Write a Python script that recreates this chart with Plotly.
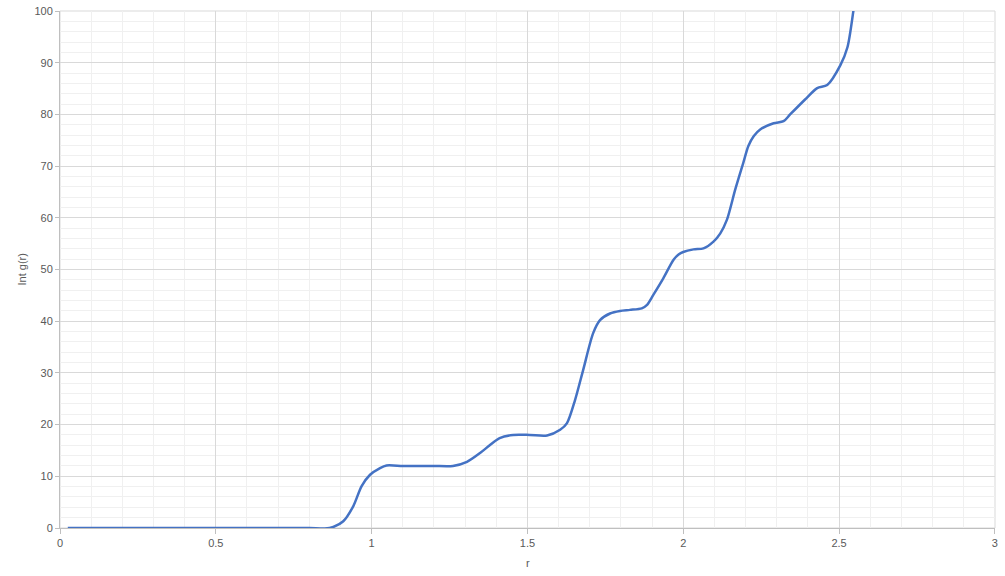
import plotly.graph_objects as go

r_vals = [0.025, 0.1, 0.2, 0.3, 0.4, 0.5, 0.6, 0.7, 0.8, 0.85, 0.877, 0.909, 0.941, 0.968,
          0.995, 1.027, 1.048, 1.1, 1.15, 1.2, 1.261, 1.306, 1.348, 1.379, 1.411, 1.454, 1.508,
          1.563, 1.605, 1.627, 1.653, 1.679, 1.711, 1.733, 1.765, 1.797, 1.829, 1.867, 1.883,
          1.904, 1.936, 1.969, 1.985, 2.0, 2.033, 2.065, 2.097, 2.119, 2.14, 2.167, 2.193,
          2.209, 2.226, 2.247, 2.29, 2.322, 2.343, 2.391, 2.43, 2.462, 2.504, 2.527, 2.546, 2.56]
int_g = [0, 0, 0, 0, 0, 0, 0, 0, 0, -0.1, 0.2, 1.3, 4.2, 8.1,
         10.3, 11.6, 12.1, 12, 12, 12, 12, 12.8, 14.5, 16, 17.4, 18, 18,
         17.9, 19, 20.3, 24.8, 30.6, 37.7, 40.2, 41.5, 42, 42.2, 42.5, 43.1,
         45.1, 48.3, 51.9, 52.9, 53.4, 53.9, 54.1, 55.4, 57.0, 59.6, 65.5, 70.7,
         73.9, 75.8, 77.1, 78.3, 78.7, 80.0, 82.9, 85.1, 85.7, 89.5, 93, 100, 106]

x_ticks = [0, 0.5, 1, 1.5, 2, 2.5, 3]
x_tick_labels = ["0", "0.5", "1", "1.5", "2", "2.5", "3"]
y_ticks = [0, 10, 20, 30, 40, 50, 60, 70, 80, 90, 100]
x_title = "r"
y_title = "Int g(r)"

fig = go.Figure()
fig.add_trace(go.Scatter(
    x=r_vals, y=int_g, mode="lines",
    line=dict(color="#4472C4", width=2.5, shape="spline", smoothing=0.8),
    showlegend=False,
))

font_fam = "Liberation Sans, Arial, sans-serif"
fig.update_layout(
    width=1005, height=576,
    margin=dict(l=60, r=10, t=11, b=48),
    paper_bgcolor="white", plot_bgcolor="white",
    font=dict(family=font_fam, size=11, color="#595959"),
    xaxis=dict(
        range=[0, 3.0005], tickvals=x_ticks, ticktext=x_tick_labels,
        showgrid=True, gridcolor="#D9D9D9", gridwidth=1,
        minor=dict(dtick=0.1, showgrid=True, gridcolor="#F0F0F0", gridwidth=1),
        showline=True, linecolor="#BFBFBF", linewidth=1,
        ticks="outside", ticklen=5, tickcolor="#BFBFBF",
        zeroline=False, automargin=False,
    ),
    yaxis=dict(
        range=[0, 100.02], tickvals=y_ticks,
        showgrid=True, gridcolor="#D9D9D9", gridwidth=1,
        minor=dict(dtick=2, showgrid=True, gridcolor="#F0F0F0", gridwidth=1),
        showline=True, linecolor="#BFBFBF", linewidth=1,
        ticks="outside", ticklen=4, tickcolor="#BFBFBF",
        zeroline=False, automargin=False,
    ),
)
fig.add_annotation(text=y_title, xref="paper", yref="paper", x=0, y=0.5,
                   xanchor="center", yanchor="middle", xshift=-39, textangle=-90,
                   showarrow=False, font=dict(size=11, color="#595959"))
fig.add_annotation(text=x_title, xref="paper", yref="paper", x=0.5, y=0,
                   xanchor="center", yanchor="middle", yshift=-35,
                   showarrow=False, font=dict(size=11, color="#595959"))
fig.add_shape(type="rect", xref="paper", yref="paper", x0=0, y0=0, x1=1, y1=1,
              line=dict(color="#D9D9D9", width=1), layer="below")

fig.write_html("out.html", config={"displayModeBar": False},
               post_script="document.body.style.margin='0';document.body.style.overflow='hidden';")
